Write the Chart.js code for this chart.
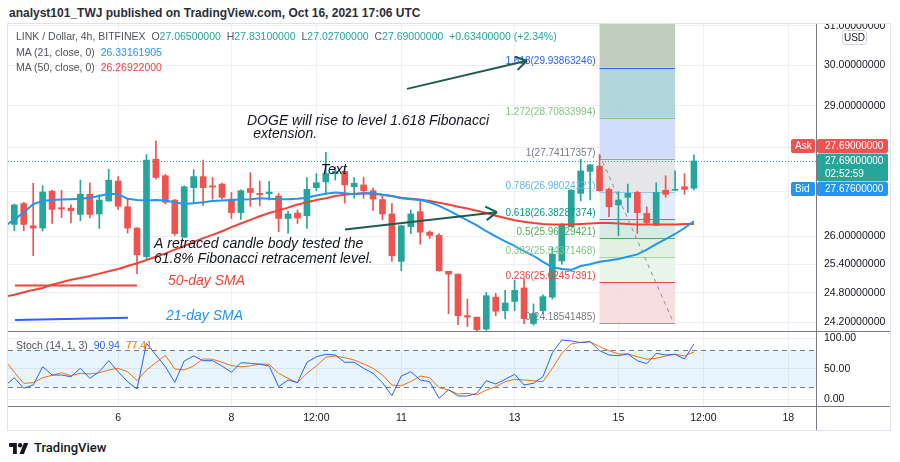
<!DOCTYPE html>
<html>
<head>
<meta charset="utf-8">
<script src="https://cdn.jsdelivr.net/npm/chart.js@4.4.0/dist/chart.umd.min.js"></script>
<style>
  body { margin: 0; width: 900px; height: 462px; background: #fff; position: relative; overflow: hidden;
         font-family: "Liberation Sans", Roboto, sans-serif; }
  #pub { position: absolute; left: 9px; top: 6px; font-size: 12px; font-weight: bold; color: #2a2e39; }
  #frame { position: absolute; left: 8px; top: 24px; width: 882px; height: 406px; outline: 1px solid #e0e3eb; }
  #main { position: absolute; left: 0; top: 0; }
  #osc { position: absolute; left: 0; top: 308px; }
  .leg { position: absolute; left: 8px; font-size: 10.5px; color: #50535e; white-space: pre; }
  .up { color: #26a69a; }
  #logo { position: absolute; left: 9px; top: 440px; display: flex; align-items: center; gap: 5px;
          font-family: Roboto, sans-serif; font-size: 13px; font-weight: 500; color: #131722; }
</style>
</head>
<body>
<div id="pub">analyst101_TWJ published on TradingView.com, Oct 16, 2021 17:06 UTC</div>
<div id="frame">
  <canvas id="main" width="882" height="308"></canvas>
  <canvas id="osc" width="882" height="98"></canvas>
  <div class="leg" style="top:6px">LINK / Dollar, 4h, BITFINEX  O<span class="up">27.06500000</span>  H<span class="up">27.83100000</span>  L<span class="up">27.02700000</span>  C<span class="up">27.69000000</span>  <span class="up">+0.63400000 (+2.34%)</span></div>
  <div class="leg" style="top:22px">MA (21, close, 0)  <span style="color:#2196f3">26.33161905</span></div>
  <div class="leg" style="top:37px">MA (50, close, 0)  <span style="color:#f44336">26.26922000</span></div>
  <div class="leg" style="top:315px">Stoch (14, 1, 3)  <span style="color:#2962ff">90.94</span>  <span style="color:#ff6d00">77.41</span></div>
</div>
<div id="logo">
  <svg width="20" height="12" viewBox="0 0 36 22"><path d="M14 22H7V9H0V2h14z" fill="#131722"/><circle cx="20" cy="6" r="4" fill="#131722"/><path d="M27 22h-8l8-20h8z" fill="#131722"/></svg>
  <span>TradingView</span>
</div>
<script>
// 4h candles, index 0 = first visible candle
const candleOpen  = [26.26,26.72,26.23,26.18,27.00,26.63,26.62,26.48,26.93,26.49,26.78,27.23,26.65,26.18,25.56,27.73,27.35,26.80,25.98,27.08,
                     27.33,27.12,27.16,26.82,26.52,27.06,26.95,26.94,26.89,26.39,26.51,26.45,27.08,27.21,27.40,27.45,27.10,27.14,27.01,26.81,
                     26.49,25.46,26.21,26.54,26.09,26.02,25.25,25.19,24.33,24.30,24.06,24.71,24.43,24.62,24.90,24.17,24.43,24.71,25.47,26.21,
                     26.95,27.45,27.57,27.04,26.69,26.86,26.97,26.50,26.24,27.02,27.02,27.10,27.065];
const candleHigh  = [26.71,26.75,27.18,27.12,27.02,27.02,26.69,27.25,27.19,26.92,27.50,27.33,26.82,26.19,27.84,28.16,27.38,26.81,27.12,27.49,
                     27.71,27.31,27.18,26.97,27.03,27.42,27.23,27.22,26.95,26.55,26.58,27.31,27.40,27.89,27.55,27.56,27.31,27.32,27.07,26.91,
                     26.72,26.23,26.58,26.78,26.12,26.06,25.25,25.19,24.67,24.30,24.81,24.79,24.85,25.06,25.09,24.57,24.76,25.76,26.28,27.04,
                     27.73,27.61,27.84,27.07,26.99,27.16,27.00,26.65,27.19,27.35,27.46,27.40,27.831];
const candleLow   = [26.12,26.12,25.58,26.12,26.28,26.41,26.29,26.34,26.40,26.17,26.77,26.59,26.07,25.20,25.52,27.27,26.71,26.02,25.97,26.72,
                     26.68,26.82,26.82,26.39,26.37,26.66,26.67,26.80,26.10,26.06,26.28,26.17,27.01,26.95,27.25,26.73,26.84,26.84,26.57,26.36,
                     25.46,25.26,26.06,25.83,25.95,25.25,24.37,24.15,24.11,24.02,24.03,24.33,24.27,24.43,24.17,24.14,24.37,24.67,25.40,26.21,
                     26.78,26.80,27.00,26.43,26.01,26.52,26.06,26.26,26.24,26.86,27.01,26.93,27.027];
const candleClose = [26.69,26.26,26.18,26.98,26.59,26.60,26.56,26.93,26.48,26.80,27.25,26.66,26.18,25.60,27.71,27.31,26.75,26.06,27.10,27.33,
                     27.08,27.09,26.86,26.52,27.01,26.97,26.92,26.98,26.39,26.49,26.40,27.04,27.19,27.40,27.45,27.14,27.18,27.01,26.82,26.49,
                     25.58,26.23,26.49,26.09,26.02,25.26,25.19,24.33,24.30,24.05,24.74,24.42,24.59,24.85,24.27,24.37,24.72,25.61,26.26,27.02,
                     27.46,27.60,27.01,26.65,26.80,26.95,26.52,26.30,26.97,26.93,27.04,27.04,27.69];

// indicator values, first entry sits one candle left of the pane edge (index -1)
const ma21 = [26.22,26.37,26.52,26.71,26.78,26.80,26.81,26.82,26.83,26.85,26.89,26.94,26.93,26.83,26.80,26.79,26.80,26.79,26.75,26.71,26.73,
              26.75,26.78,26.79,26.80,26.81,26.82,26.84,26.83,26.82,26.82,26.83,26.85,26.90,26.94,26.97,26.95,26.93,26.95,26.96,26.92,
              26.89,26.84,26.82,26.80,26.75,26.67,26.57,26.46,26.35,26.24,26.11,26.00,25.89,25.79,25.68,25.58,25.45,25.34,25.30,25.28,
              25.36,25.40,25.45,25.48,25.51,25.56,25.61,25.71,25.83,25.94,26.05,26.18,26.33];
const ma50 = [24.72,24.76,24.81,24.86,24.90,24.97,25.02,25.07,25.11,25.15,25.20,25.25,25.30,25.36,25.42,25.49,25.56,25.63,25.71,25.79,25.88,
              25.96,26.03,26.11,26.20,26.28,26.36,26.44,26.51,26.57,26.63,26.70,26.75,26.80,26.84,26.89,26.92,26.94,26.95,26.94,26.92,
              26.89,26.85,26.83,26.81,26.78,26.74,26.70,26.65,26.61,26.56,26.51,26.45,26.40,26.35,26.32,26.29,26.27,26.26,26.26,26.26,
              26.27,26.28,26.29,26.29,26.28,26.27,26.26,26.26,26.26,26.26,26.26,26.27,26.27];
const stochK = [21.8,35.4,18.0,23.4,53.4,39.8,39.8,37.0,50.8,34.4,45.2,63.3,45.2,28.9,16.9,91.8,72.6,53.4,27.8,62.8,71.0,
                63.3,63.3,54.6,44.3,60.0,59.0,57.4,54.6,20.7,31.6,27.2,60.7,69.8,73.8,72.6,60.7,60.7,50.8,42.6,27.2,
                5.9,38.2,45.2,31.6,28.9,1.6,15.8,5.4,5.4,9.8,30.5,25.1,32.7,41.0,23.4,26.2,37.0,76.4,97.2,95.6,
                92.8,94.4,79.7,72.6,71.5,74.3,63.3,58.4,75.4,72.6,73.8,66.1,90.94];
const stochD = [64.0,44.3,26.2,27.2,35.4,39.3,43.6,38.7,42.6,41.5,43.6,48.0,50.8,45.2,30.5,48.0,60.0,72.1,49.7,48.0,54.6,
                66.1,65.6,60.7,55.1,53.4,54.6,57.9,57.4,42.6,34.4,27.2,42.6,54.6,68.9,71.0,68.2,64.4,57.9,50.8,39.8,
                23.4,22.3,28.9,38.2,35.4,19.0,15.2,8.7,9.8,7.0,15.2,20.7,28.9,32.7,31.6,30.5,28.9,50.8,75.4,90.7,
                93.4,94.4,86.2,79.7,74.3,74.3,69.8,65.6,67.2,71.0,73.8,71.0,77.41];

const timeTickIdx  = [11, 23, 32, 41, 53, 64, 73, 82];
const timeTickText = ['6', '8', '12:00', '11', '13', '15', '12:00', '18'];
const priceTicks = [24.2, 24.8, 25.4, 26, 27, 28, 29, 30, 31];
const stochTicks = [0, 50, 100];
const fibLevels = ['0', '0.236', '0.382', '0.5', '0.618', '0.786', '1', '1.272', '1.618'];
const fibPrices = [24.18541485, 25.02457391, 25.54371468, 25.96329421, 26.38287374, 26.98024121, 27.74117357, 28.70833994, 29.93863246];

const UP = '#26a69a', DOWN = '#ef5350';
const GRID = '#edf0f6', AXIS = '#787b86';
const X_MIN = -0.67, X_MAX = 84.93;

const candleColor = candleOpen.map((o, i) => candleClose[i] >= o ? UP : DOWN);
const wickData = candleOpen.map((o, i) => ({ x: i, y: [candleLow[i], candleHigh[i]] }));
const bodyData = candleOpen.map((o, i) => ({ x: i, y: [o, candleClose[i]] }));
const toXY = arr => arr.map((v, i) => ({ x: i - 1, y: v }));

// fib drawing (anchored in candle index / price)
const fibBox = { from: 62, to: 70 };
const fibFill = ['#f8d8d9', '#e6f3e6', '#ddefdd', '#cfe8e2', '#dbe9f9', '#e2e2e5', '#cad6fa', '#a3d0d3', '#b6c5b3'];
const fibLine = ['#9e9e9e', '#f44336', '#a5d6a7', '#4caf50', '#26a69a', '#90caf9', '#9e9e9e', '#81c784', '#2962ff'];
const fibText = ['#787b86', '#f44336', '#81c784', '#4caf50', '#089981', '#64b5f6', '#787b86', '#81c784', '#2962ff'];

const notes = [
  { t: 'DOGE will rise to level 1.618 Fibonacci', i: 24.65, p: 28.64, c: '#131722' },
  { t: ' extension.', i: 24.9, p: 28.33, c: '#131722' },
  { t: 'Text', i: 32.46, p: 27.49, c: '#131722' },
  { t: 'A retraced candle body tested the', i: 14.8, p: 25.83, c: '#131722' },
  { t: '61.8% Fibonacci retracement level.', i: 14.8, p: 25.51, c: '#131722' },
  { t: '50-day SMA', i: 16.28, p: 25.04, c: '#f44336' },
  { t: '21-day SMA', i: 16.07, p: 24.32, c: '#2196f3' }
];
const arrows = [
  { a: [41.6, 29.41], b: [54.3, 30.11] },
  { a: [35.03, 26.15], b: [51.13, 26.53] }
];
const marks = [
  { a: [0.07, 24.95], b: [13.0, 24.95], c: '#f44336' },
  { a: [0.07, 24.24], b: [12.04, 24.29], c: '#2962ff' }
];

function seg(ctx, x1, y1, x2, y2) { ctx.beginPath(); ctx.moveTo(x1, y1); ctx.lineTo(x2, y2); ctx.stroke(); }

const mainDecor = {
  id: 'mainDecor',
  beforeDatasetsDraw(chart) {
    const { ctx, chartArea: ca, scales: { x, y } } = chart;
    ctx.save();
    ctx.beginPath(); ctx.rect(ca.left, ca.top, ca.width, ca.height); ctx.clip();
    const xl = x.getPixelForValue(fibBox.from), xr = x.getPixelForValue(fibBox.to);
    ctx.globalAlpha = 0.85;
    for (let k = 0; k < fibPrices.length; k++) {
      const yb = y.getPixelForValue(fibPrices[k]);
      const yt = k + 1 < fibPrices.length ? y.getPixelForValue(fibPrices[k + 1]) : ca.top;
      ctx.fillStyle = fibFill[k];
      ctx.fillRect(xl, yt, xr - xl, yb - yt);
    }
    ctx.globalAlpha = 1;
    ctx.lineWidth = 1;
    fibPrices.forEach((p, k) => {
      const yy = Math.round(y.getPixelForValue(p)) + 0.5;
      ctx.strokeStyle = fibLine[k];
      seg(ctx, xl, yy, xr, yy);
    });
    // last price line
    const yp = Math.round(y.getPixelForValue(candleClose[candleClose.length - 1])) + 0.5;
    ctx.strokeStyle = UP; ctx.setLineDash([1, 2]);
    seg(ctx, ca.left, yp, ca.right, yp);
    ctx.restore();
  },
  afterDatasetsDraw(chart) {
    const { ctx, chartArea: ca, scales: { x, y } } = chart;
    const px = (i, p) => [x.getPixelForValue(i), y.getPixelForValue(p)];
    ctx.save();
    ctx.beginPath(); ctx.rect(ca.left, ca.top, ca.width, ca.height); ctx.clip();
    const xl = x.getPixelForValue(fibBox.from);
    ctx.font = '10px "Liberation Sans"';
    ctx.textAlign = 'right'; ctx.textBaseline = 'middle';
    fibPrices.forEach((p, k) => {
      ctx.fillStyle = fibText[k];
      ctx.fillText(fibLevels[k] + '(' + p.toFixed(8) + ')', xl - 4, y.getPixelForValue(p) - 6);
    });
    // fib trend line
    ctx.strokeStyle = '#8a8d96'; ctx.lineWidth = 1; ctx.setLineDash([4, 4]);
    const t1 = px(62, 27.84), t2 = px(69.8, 24.2);
    seg(ctx, t1[0], t1[1], t2[0], t2[1]);
    ctx.setLineDash([]);
    // text notes
    ctx.textAlign = 'left';
    ctx.font = 'italic 14px "Liberation Sans"';
    notes.forEach(n => {
      const [nx, ny] = px(n.i, n.p);
      ctx.fillStyle = n.c;
      ctx.fillText(n.t, nx, ny);
    });
    // arrows
    ctx.strokeStyle = '#1d5c4f'; ctx.lineWidth = 2;
    arrows.forEach(a => {
      const [x1, y1] = px(a.a[0], a.a[1]), [x2, y2] = px(a.b[0], a.b[1]);
      seg(ctx, x1, y1, x2, y2);
      const ang = Math.atan2(y2 - y1, x2 - x1);
      [0.55, -0.55].forEach(d => seg(ctx, x2, y2, x2 - 13 * Math.cos(ang + d), y2 - 13 * Math.sin(ang + d)));
    });
    // sma legend strokes
    marks.forEach(m => {
      const [x1, y1] = px(m.a[0], m.a[1]), [x2, y2] = px(m.b[0], m.b[1]);
      ctx.strokeStyle = m.c; ctx.lineWidth = 2;
      seg(ctx, x1, y1, x2, y2);
    });
    ctx.restore();
  },
  afterDraw(chart) {
    const { ctx, chartArea: ca, scales: { y }, width } = chart;
    ctx.save();
    ctx.strokeStyle = AXIS; ctx.lineWidth = 1;
    seg(ctx, 0, ca.bottom - 0.5, width, ca.bottom - 0.5);
    const yp = y.getPixelForValue(27.69);
    const ax = ca.right + 1, aw = width - ax - 2;
    ctx.font = '10px "Liberation Sans"'; ctx.textBaseline = 'middle'; ctx.textAlign = 'left';
    const box = (bx, by, bw, bh, col) => { ctx.fillStyle = col; ctx.beginPath(); ctx.roundRect(bx, by, bw, bh, 2); ctx.fill(); };
    // ask
    box(ax, yp - 22, aw, 14, DOWN); box(ca.right - 25, yp - 22, 24, 14, DOWN);
    ctx.fillStyle = '#fff';
    ctx.fillText('27.69000000', ax + 8, yp - 15);
    ctx.fillText('Ask', ca.right - 21, yp - 15);
    // last
    box(ax, yp - 7.5, aw, 28, UP);
    ctx.fillStyle = '#fff';
    ctx.fillText('27.69000000', ax + 8, yp);
    ctx.fillText('02:52:59', ax + 8, yp + 13);
    // bid
    box(ax, yp + 21, aw, 14, '#2196f3'); box(ca.right - 25, yp + 21, 24, 14, '#2196f3');
    ctx.fillStyle = '#fff';
    ctx.fillText('27.67600000', ax + 8, yp + 28);
    ctx.fillText('Bid', ca.right - 21, yp + 28);
    // currency tag
    ctx.fillStyle = '#fff'; ctx.strokeStyle = '#d1d4dc';
    ctx.beginPath(); ctx.roundRect(ax + 25.5, ca.top + 6.5, 24, 14, 3); ctx.fill(); ctx.stroke();
    ctx.fillStyle = '#131722'; ctx.textAlign = 'center';
    ctx.fillText('USD', ax + 37.5, ca.top + 14);
    ctx.restore();
  }
};

const oscDecor = {
  id: 'oscDecor',
  beforeDatasetsDraw(chart) {
    const { ctx, chartArea: ca, scales: { y } } = chart;
    const y80 = y.getPixelForValue(80), y20 = y.getPixelForValue(20);
    ctx.save();
    ctx.fillStyle = 'rgba(33,150,243,0.1)';
    ctx.fillRect(ca.left, y80, ca.width, y20 - y80);
    ctx.strokeStyle = AXIS; ctx.lineWidth = 1; ctx.setLineDash([5, 4]);
    seg(ctx, ca.left, Math.round(y80) + 0.5, ca.right, Math.round(y80) + 0.5);
    seg(ctx, ca.left, Math.round(y20) + 0.5, ca.right, Math.round(y20) + 0.5);
    ctx.restore();
  },
  afterDraw(chart) {
    const { ctx, chartArea: ca, width, height } = chart;
    ctx.save();
    ctx.strokeStyle = AXIS; ctx.lineWidth = 1;
    seg(ctx, 0, ca.bottom + 0.5, width, ca.bottom + 0.5);
    seg(ctx, ca.right + 0.5, 0, ca.right + 0.5, height);
    ctx.restore();
  }
};

const noPad = s => { s.paddingTop = 0; s.paddingBottom = 0; s.paddingLeft = 0; s.paddingRight = 0; };
const tickFont = { family: '"Liberation Sans"', size: 10.5 };

new Chart(document.getElementById('main'), {
  type: 'bar',
  data: {
    datasets: [
      { type: 'line', data: toXY(ma21), borderColor: '#2196f3', borderWidth: 2, pointRadius: 0, order: 0 },
      { type: 'line', data: toXY(ma50), borderColor: '#f44336', borderWidth: 2, pointRadius: 0, order: 1 },
      { data: bodyData, backgroundColor: candleColor, barThickness: 6, minBarLength: 1, grouped: false, order: 2 },
      { data: wickData, backgroundColor: candleColor, barThickness: 1, grouped: false, order: 3 }
    ]
  },
  options: {
    responsive: false, animation: false,
    layout: { padding: 0 },
    plugins: { legend: { display: false }, tooltip: { enabled: false } },
    scales: {
      x: {
        type: 'linear', min: X_MIN, max: X_MAX, offset: false,
        grid: { color: GRID, offset: false, drawTicks: false },
        border: { display: false },
        ticks: { display: false },
        afterBuildTicks: s => { s.ticks = timeTickIdx.map(v => ({ value: v })); },
        afterFit: s => { s.height = 0; noPad(s); }
      },
      y: {
        type: 'logarithmic', position: 'right', min: 24.02, max: 31.05,
        grid: { color: GRID, drawTicks: false },
        border: { color: AXIS },
        ticks: { color: '#131722', font: tickFont, padding: 8, autoSkip: false,
                 callback: v => (v === 27 || v === 28) ? '' : v.toFixed(8) },
        afterBuildTicks: s => { s.ticks = priceTicks.map(v => ({ value: v })); },
        afterFit: s => { s.width = 74; noPad(s); }
      }
    }
  },
  plugins: [mainDecor]
});

new Chart(document.getElementById('osc'), {
  type: 'line',
  data: {
    datasets: [
      { data: toXY(stochK), borderColor: '#2962ff', borderWidth: 1, pointRadius: 0, order: 0 },
      { data: toXY(stochD), borderColor: '#ff6d00', borderWidth: 1, pointRadius: 0, order: 1 }
    ]
  },
  options: {
    responsive: false, animation: false,
    layout: { padding: 0 },
    plugins: { legend: { display: false }, tooltip: { enabled: false } },
    scales: {
      x: {
        type: 'linear', min: X_MIN, max: X_MAX, offset: false,
        grid: { color: GRID, offset: false, drawTicks: false },
        border: { display: false },
        ticks: { color: '#131722', font: tickFont, padding: 6, autoSkip: false, maxRotation: 0,
                 callback: v => timeTickText[timeTickIdx.indexOf(v)] },
        afterBuildTicks: s => { s.ticks = timeTickIdx.map(v => ({ value: v })); },
        afterFit: s => { s.height = 24; noPad(s); }
      },
      y: {
        type: 'linear', position: 'right', min: -11, max: 110.3,
        grid: { color: GRID, drawTicks: false },
        border: { color: AXIS },
        ticks: { color: '#131722', font: tickFont, padding: 8, autoSkip: false, callback: v => v.toFixed(2) },
        afterBuildTicks: s => { s.ticks = stochTicks.map(v => ({ value: v })); },
        afterFit: s => { s.width = 74; noPad(s); }
      }
    }
  },
  plugins: [oscDecor]
});
</script>
</body>
</html>
